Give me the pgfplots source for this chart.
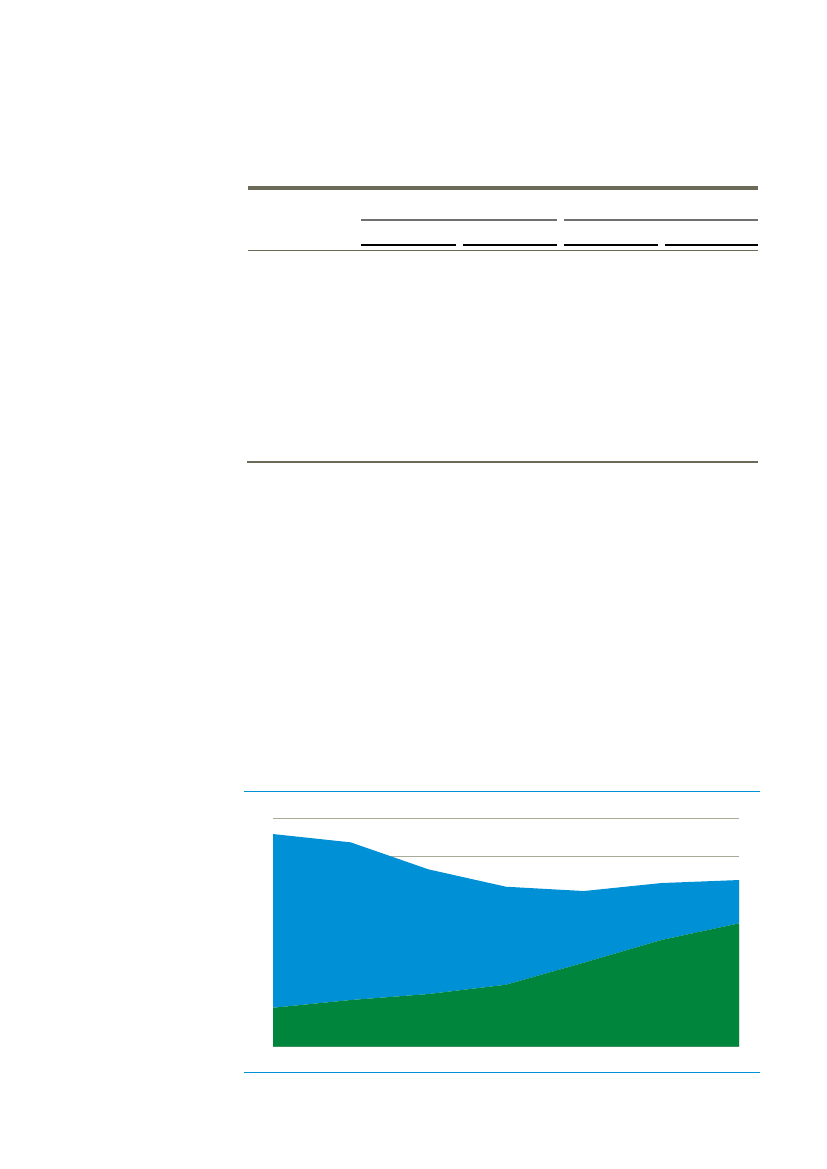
\documentclass[border=0pt]{standalone}
\usepackage{pgfplots}
\pgfplotsset{compat=1.18}
\definecolor{rulegray}{RGB}{108,107,89}
\definecolor{midgray}{RGB}{112,112,112}
\definecolor{gridgray}{RGB}{170,170,152}
\definecolor{lineblue}{RGB}{0,144,214}
\definecolor{areablue}{RGB}{0,144,214}
\definecolor{areagreen}{RGB}{0,133,60}

\begin{document}
\begin{tikzpicture}
% page frame, 1bp per pixel of the reference
\begin{scope}[x=1bp,y=-1bp]
\useasboundingbox (0,0) rectangle (827,1169);
% table rules
\draw[rulegray,line width=4bp] (248,187.5) -- (758,187.5);
\draw[midgray,line width=1.4bp] (361,220) -- (556.5,220);
\draw[midgray,line width=1.4bp] (563.5,220) -- (758,220);
\draw[black,line width=1.4bp] (361,245) -- (456,245);
\draw[black,line width=1.4bp] (462.5,245) -- (556.5,245);
\draw[black,line width=1.4bp] (563.5,245) -- (658,245);
\draw[black,line width=1.4bp] (665,245) -- (758,245);
\draw[rulegray,line width=1.2bp] (248,250.3) -- (758,250.3);
\draw[rulegray,line width=2bp] (247,462) -- (758,462);
% chart frame rules
\draw[lineblue,line width=1.2bp] (244,791.3) -- (760,791.3);
\draw[lineblue,line width=1.2bp] (244,1072.3) -- (760,1072.3);
\end{scope}

\begin{axis}[
    at={(273bp,-1046.7bp)}, anchor=south west,
    scale only axis,
    width=466bp, height=228.4bp,
    xmin=0, xmax=6, ymin=0, ymax=600,
    enlargelimits=false,
    stack plots=y,
    xtick=\empty,
    ytick={0,100,...,600},
    yticklabels={},
    major tick length=0pt,
    ymajorgrids,
    grid style={draw=gridgray, line width=0.9pt},
    axis x line*=bottom,
    axis y line*=right,
    axis line style={draw=gridgray, line width=0.9pt, -},
    y axis line style={draw=none},
]
\addplot[fill=areagreen, draw=none] coordinates {
    (0,102.4) (1,122.7) (2,138.4) (3,162.9) (4,220.6) (5,280.3) (6,324.1)
} \closedcycle;
\addplot[fill=areablue, draw=none] coordinates {
    (0,456.3) (1,414.2) (2,327.6) (3,257.4) (4,188.4) (5,149.7) (6,113.8)
} \closedcycle;
\draw[gridgray, line width=0.6pt] (axis cs:6,0) -- (axis cs:6,437.9);
\end{axis}
\end{tikzpicture}
\end{document}
